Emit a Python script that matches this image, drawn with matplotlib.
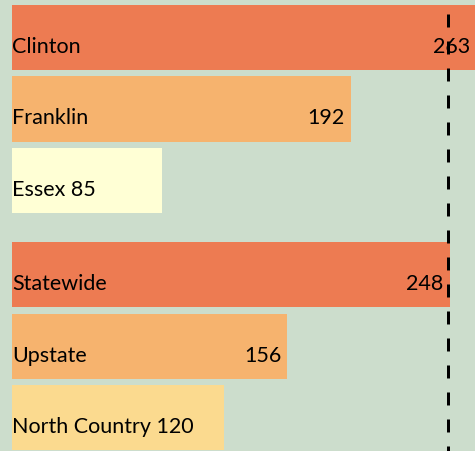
import matplotlib
matplotlib.use("Agg")
import matplotlib.pyplot as plt

# data
names = ["Clinton", "Franklin", "Essex", "Statewide", "Upstate", "North Country"]
values = [263, 192, 85, 248, 156, 120]
reference_value = 247

positions = [0, 1, 2, 3.32, 4.32, 5.32]
colors = ["#ED7B52", "#F6B36E", "#FFFFD5", "#ED7B52", "#F6B36E", "#FBDA8F"]

plt.rcParams['font.family'] = ['Lato', 'DejaVu Sans']

fig = plt.figure(figsize=(4.75, 4.52), dpi=100)
fig.patch.set_facecolor("#CCDDCC")
ax = fig.add_axes([0, 0, 1, 1])
ax.set_facecolor("#CCDDCC")

ax.barh(positions, values, height=0.91, color=colors, edgecolor="none")

fs = 15.5
for pos, name, val in zip(positions, names, values):
    if val < 130:
        ax.annotate(f"{name} {val}", (0, pos), xytext=(0, -10.4),
                    textcoords="offset points", ha="left", va="baseline",
                    fontsize=fs, annotation_clip=False)
    else:
        ax.annotate(name, (0, pos), xytext=(0, -10.4),
                    textcoords="offset points", ha="left", va="baseline",
                    fontsize=fs, annotation_clip=False)
        ax.annotate(str(val), (val, pos), xytext=(-4.5, -10.4),
                    textcoords="offset points", ha="right", va="baseline",
                    fontsize=fs, annotation_clip=False)

ax.plot([reference_value, reference_value], [-0.33, 6], color="black",
        lw=2.16, dashes=(4.33, 4.67), dash_capstyle="butt", zorder=5)

ax.set_xlim(-12 / 1.766, (475 - 12) / 1.766)
ax.set_ylim(5.783, -0.538)
ax.axis("off")

fig.savefig("out.png", dpi=100, facecolor=fig.get_facecolor())
